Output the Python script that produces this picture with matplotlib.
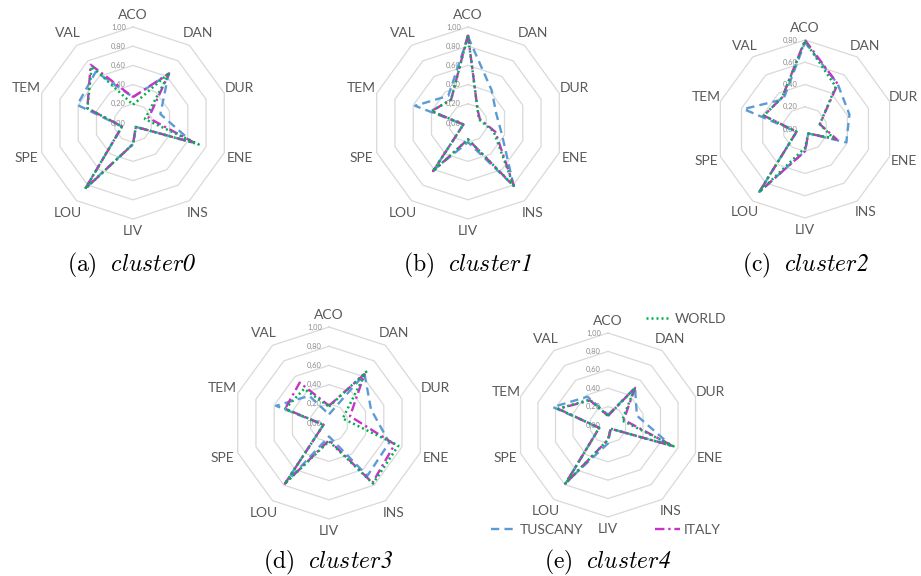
import numpy as np
import matplotlib
matplotlib.use("Agg")
import matplotlib.pyplot as plt

plt.rcParams['mathtext.fontset'] = 'custom'
plt.rcParams['mathtext.rm'] = 'cmr10'
plt.rcParams['mathtext.it'] = 'cmmi10'
plt.rcParams['mathtext.bf'] = 'STIXGeneral:italic'
plt.rcParams['font.family'] = ['Lato', 'DejaVu Sans']
plt.rcParams['axes.unicode_minus'] = False

categories = ["ACO", "DAN", "DUR", "ENE", "INS", "LIV", "LOU", "SPE", "TEM", "VAL"]
series_names = ["TUSCANY", "ITALY", "WORLD"]

cluster0_world   = [0.19, 0.65, 0.13, 0.72, 0.05, 0.22, 0.85, 0.12, 0.50, 0.73]
cluster0_tuscany = [0.27, 0.63, 0.30, 0.65, 0.05, 0.22, 0.83, 0.12, 0.61, 0.66]
cluster0_italy   = [0.27, 0.64, 0.17, 0.68, 0.05, 0.22, 0.85, 0.12, 0.50, 0.75]

cluster1_world   = [0.91, 0.17, 0.12, 0.28, 0.81, 0.17, 0.62, 0.05, 0.40, 0.30]
cluster1_tuscany = [0.90, 0.42, 0.31, 0.37, 0.81, 0.20, 0.60, 0.05, 0.58, 0.35]
cluster1_italy   = [0.92, 0.17, 0.13, 0.30, 0.81, 0.17, 0.62, 0.05, 0.40, 0.30]

cluster2_world   = [0.79, 0.47, 0.14, 0.27, 0.05, 0.17, 0.70, 0.08, 0.39, 0.35]
cluster2_tuscany = [0.78, 0.50, 0.42, 0.39, 0.05, 0.20, 0.70, 0.08, 0.58, 0.33]
cluster2_italy   = [0.80, 0.50, 0.14, 0.30, 0.05, 0.20, 0.70, 0.08, 0.39, 0.35]

cluster3_world   = [0.17, 0.66, 0.15, 0.76, 0.78, 0.19, 0.78, 0.06, 0.48, 0.44]
cluster3_tuscany = [0.09, 0.63, 0.46, 0.66, 0.68, 0.14, 0.78, 0.06, 0.58, 0.35]
cluster3_italy   = [0.18, 0.63, 0.23, 0.72, 0.77, 0.18, 0.78, 0.06, 0.48, 0.52]

cluster4_world   = [0.10, 0.50, 0.16, 0.75, 0.05, 0.16, 0.79, 0.10, 0.57, 0.34]
cluster4_tuscany = [0.11, 0.50, 0.33, 0.72, 0.05, 0.20, 0.76, 0.10, 0.63, 0.38]
cluster4_italy   = [0.10, 0.50, 0.18, 0.74, 0.05, 0.16, 0.79, 0.10, 0.57, 0.33]

caption_letters = ["a", "b", "c", "d", "e"]
caption_names = ["cluster0", "cluster1", "cluster2", "cluster3", "cluster4"]
axis_max = [1.0, 1.0, 0.8, 1.0, 1.0]

clusters = [
    (cluster0_tuscany, cluster0_italy, cluster0_world),
    (cluster1_tuscany, cluster1_italy, cluster1_world),
    (cluster2_tuscany, cluster2_italy, cluster2_world),
    (cluster3_tuscany, cluster3_italy, cluster3_world),
    (cluster4_tuscany, cluster4_italy, cluster4_world),
]

# layout (pixel centers, radius of outer ring)
W, H = 921, 576
layout = [(133, 123, 96), (468, 123, 96), (805, 129, 89), (329, 423, 96), (608, 425, 92)]
caption_pos = [(132, 265), (467, 265), (806, 265), (328, 562), (608, 562)]

styles = {
    "TUSCANY": dict(color="#5b9bd5", linestyle=(0, (3.5, 2.2)), lw=1.7, zorder=3),
    "ITALY":   dict(color="#c832c8", linestyle=(0, (4, 1.6, 1, 1.6)), lw=1.7, zorder=4),
    "WORLD":   dict(color="#00b050", linestyle=(0, (0.8, 1.2)), lw=1.8, zorder=5),
}


def caption_tex(letter, name):
    word = name.rstrip("0123456789")
    digits = name[len(word):]
    return r"$\mathrm{(" + letter + r")}\ \ \mathit{" + word + r"}\mathbf{" + digits + r"}$"


fig = plt.figure(figsize=(W / 100, H / 100), dpi=100)
theta = np.linspace(0, 2 * np.pi, len(categories), endpoint=False)
theta_c = np.concatenate([theta, theta[:1]])

legend_handles = {}
for k, (vals, (cx, cy, R), rmax) in enumerate(zip(clusters, layout, axis_max)):
    ax = fig.add_axes([(cx - R) / W, (H - cy - R) / H, 2 * R / W, 2 * R / H], projection="polar")
    ax.set_theta_zero_location("N")
    ax.set_theta_direction(-1)
    ax.set_ylim(0, rmax)
    ax.grid(False)
    ax.spines["polar"].set_visible(False)
    ax.set_xticks([])
    ax.set_yticks([])
    ax.patch.set_alpha(0)
    levels = np.arange(0, rmax + 1e-9, 0.2)
    for lv in levels[1:]:
        ax.plot(theta_c, [lv] * len(theta_c), color="#d9d9d9", lw=0.9, zorder=1, clip_on=False)
    for lv in levels:
        ax.annotate(f"{lv:.2f}".replace(".", ","), xy=(0, lv), xytext=(-5.0, 0),
                    textcoords="offset points", ha="right", va="center",
                    fontsize=5.4, color="#8c8c8c", zorder=2, annotation_clip=False)
    for t, cat in zip(theta, categories):
        rl = rmax * (1.13 + 0.04 * abs(np.sin(t)))
        ax.text(t, rl, cat, ha="center", va="center", fontsize=10, color="#595959", clip_on=False)
    for name, v in zip(series_names, vals):
        v_c = list(v) + [v[0]]
        ln, = ax.plot(theta_c, v_c, clip_on=False, **styles[name])
        legend_handles[name] = ln
    fig.text(caption_pos[k][0] / W, 1 - caption_pos[k][1] / H,
             caption_tex(caption_letters[k], caption_names[k]),
             ha="center", va="center", fontsize=17)

leg_pos = {"WORLD": (646, 319), "TUSCANY": (491, 530), "ITALY": (655, 530)}
for name in ["WORLD", "TUSCANY", "ITALY"]:
    x, y = leg_pos[name]
    fig.legend(handles=[legend_handles[name]], labels=[name], loc="center left",
               bbox_to_anchor=(x / W, 1 - y / H), frameon=False, fontsize=10,
               labelcolor="#595959", handlelength=1.8, handletextpad=0.25,
               borderpad=0, borderaxespad=0)

fig.savefig("out.png", dpi=100)
